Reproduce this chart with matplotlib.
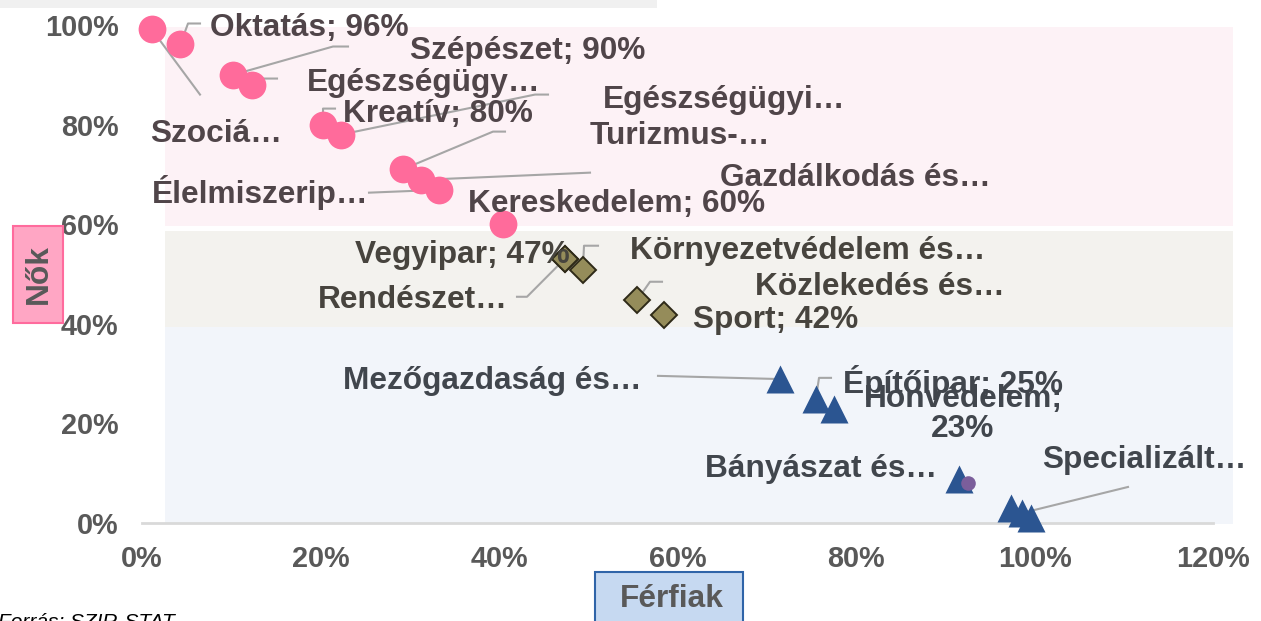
import matplotlib
matplotlib.use("Agg")
import matplotlib.pyplot as plt
from matplotlib.patches import Rectangle
from matplotlib.lines import Line2D

plt.rcParams['font.family'] = ['Liberation Sans', 'DejaVu Sans']

# ---------------- data ----------------
# women-dominated (pink circles): men share (x), women share (y)
women_names = ["Szociá…", "Oktatás; 96%", "Szépészet; 90%", "Egészségügy…", "Kreatív; 80%",
               "Egészségügyi…", "Turizmus-…", "Gazdálkodás és…", "Élelmiszerip…", "Kereskedelem; 60%"]
women_x = [0.011, 0.043, 0.102, 0.123, 0.203, 0.223, 0.292, 0.313, 0.333, 0.405]
women_y = [0.991, 0.961, 0.900, 0.880, 0.800, 0.780, 0.710, 0.689, 0.669, 0.600]

# mixed (olive diamonds)
mixed_names = ["Vegyipar; 47%", "Rendészet…", "Környezetvédelem és…", "Közlekedés és…", "Sport; 42%"]
mixed_x = [0.474, 0.474, 0.494, 0.555, 0.585]
mixed_y = [0.531, 0.531, 0.509, 0.448, 0.418]

# men-dominated (blue triangles)
men_names = ["Mezőgazdaság és…", "Építőipar; 25%", "Honvédelem;\n23%", "Bányászat és…",
             "Specializált…", "", ""]
men_x = [0.715, 0.755, 0.775, 0.915, 0.974, 0.986, 0.996]
men_y = [0.289, 0.249, 0.229, 0.088, 0.030, 0.020, 0.010]

# extra point (purple)
extra_x = [0.925]
extra_y = [0.080]

x_ticks = [0, 0.2, 0.4, 0.6, 0.8, 1.0, 1.2]
x_ticklabels = ["0%", "20%", "40%", "60%", "80%", "100%", "120%"]
y_ticks = [0, 0.2, 0.4, 0.6, 0.8, 1.0]
y_ticklabels = ["0%", "20%", "40%", "60%", "80%", "100%"]

# ---------------- layout helpers (reference pixel -> data) ----------------
W, H = 1261, 621
X0, XS = 142, 892.5   # px at 0, px per 1.0
Y0, YS = 523, 497.5
TY = 3                # text baseline nudge (px)
FS = 22.8

def dx(px):
    return (px - X0) / XS

def dy(py):
    return (Y0 - py) / YS

fig = plt.figure(figsize=(W / 100, H / 100), dpi=100)
fig.patch.set_facecolor("white")
ax = fig.add_axes([X0 / W, (H - Y0) / H, (1213 - X0) / W, (Y0 - 25) / H])
ax.set_xlim(0, 1.2)
ax.set_ylim(0, 1.0)
ax.set_facecolor("none")
for s in ["left", "right", "top"]:
    ax.spines[s].set_visible(False)
ax.spines["bottom"].set_color("#d9d9d9")
ax.spines["bottom"].set_linewidth(2)
ax.set_xticks(x_ticks)
ax.set_xticklabels(x_ticklabels)
ax.set_yticks(y_ticks)
ax.set_yticklabels(y_ticklabels)
ax.tick_params(axis="both", length=0, labelsize=20.8, labelcolor="#595959")
ax.tick_params(axis="y", pad=17)
ax.tick_params(axis="x", pad=16)
for t in ax.get_xticklabels() + ax.get_yticklabels():
    t.set_fontweight("bold")

# background bands
bands = [
    (165, 27, 1233, 226, "#fdf2f6"),
    (165, 231, 1233, 327, "#f3f2ee"),
    (165, 327, 1233, 524, "#f2f5fa"),
]
for x1, y1, x2, y2, c in bands:
    ax.add_patch(Rectangle((dx(x1), dy(y2)), dx(x2) - dx(x1), dy(y1) - dy(y2),
                           facecolor=c, edgecolor="none", zorder=0, clip_on=False))

# markers
ax.plot(women_x, women_y, "o", ms=20, color="#ff6b9b", mec="none", zorder=3, clip_on=False)
ax.plot(mixed_x, mixed_y, "D", ms=13.5, color="#958c5a", mec="#2e2a18", mew=1.4, zorder=3, clip_on=False)
ax.plot(men_x, men_y, "^", ms=20, color="#2b5591", mec="none", zorder=3, clip_on=False)
ax.plot(extra_x, extra_y, "o", ms=10.5, color="#7b5e9b", mec="none", zorder=4, clip_on=False)

LC = "#a6a6a6"

def leader(x, y, pts):
    xs = [x] + [dx(p[0]) for p in pts]
    ys = [y] + [dy(p[1]) for p in pts]
    ax.add_line(Line2D(xs, ys, color=LC, lw=1.5, zorder=2, clip_on=False))

PINK_T = "#504549"
BEIGE_T = "#47443e"
BLUE_T = "#41464d"

# label layouts: (left px, center y px, leader waypoints)
women_layout = [
    (150, 131, [(200, 95)]),
    (210, 25, [(188, 24), (200, 24)]),
    (410, 48, [(333, 47), (348, 47)]),
    (307, 80, [(263, 79), (277, 79)]),
    (343, 111, [(323, 109), (335, 109)]),
    (603, 97, [(535, 95), (548, 95)]),
    (590, 133, [(493, 132), (505, 132)]),
    (720, 175, [(590, 173)]),
    (152, 190, [(369, 193)]),
    (468, 201, []),
]
for i, (lx, ly, pts) in enumerate(women_layout):
    if pts:
        leader(women_x[i], women_y[i], pts)
    ax.text(dx(lx), dy(ly + TY), women_names[i], ha="left", va="center", fontsize=FS,
            fontweight="bold", color=PINK_T, zorder=5, clip_on=False)

mixed_layout = [
    (355, 252, []),
    (318, 297, [(527, 297), (517, 297)]),
    (630, 248, [(584, 246), (598, 246)]),
    (755, 284, [(650, 282), (662, 282)]),
    (693, 317, []),
]
for i, (lx, ly, pts) in enumerate(mixed_layout):
    if pts:
        leader(mixed_x[i], mixed_y[i], pts)
    ax.text(dx(lx), dy(ly + TY), mixed_names[i], ha="left", va="center", fontsize=FS,
            fontweight="bold", color=BEIGE_T, zorder=5, clip_on=False)

men_layout = [
    (343, 378, "left", [(658, 376)]),
    (843, 380, "left", [(819, 378), (831, 378)]),
    (963, 411, "center", []),
    (705, 466, "left", []),
    (1042, 457, "left", [(1128, 487)]),
]
for i, (lx, ly, ha, pts) in enumerate(men_layout):
    if i == 4:
        leader(men_x[5], men_y[5], pts)
    elif pts:
        leader(men_x[i], men_y[i], pts)
    ax.text(dx(lx), dy(ly + TY), men_names[i], ha=ha, va="center", fontsize=FS,
            fontweight="bold", color=BLUE_T, zorder=5, clip_on=False,
            multialignment="center", linespacing=1.0)

# axis title boxes (figure pixel coordinates)
def fx(px):
    return px / W

def fy(py):
    return (H - py) / H

fig.patches.append(Rectangle((fx(13), fy(323)), fx(63) - fx(13), fy(226) - fy(323),
                             transform=fig.transFigure, facecolor="#ffa6c4", edgecolor="#ff6b9d",
                             lw=1.5, zorder=1))
fig.text(fx(39), fy(274), "Nők", rotation=90, ha="center", va="center", fontsize=FS,
         fontweight="bold", color="#595959")

fig.patches.append(Rectangle((fx(595), fy(640)), fx(743) - fx(595), fy(572) - fy(640),
                             transform=fig.transFigure, facecolor="#c6d9f1", edgecolor="#2f64a8",
                             lw=1.5, zorder=1))
fig.text(fx(672), fy(599), "Férfiak", ha="center", va="center", fontsize=FS,
         fontweight="bold", color="#595959")

# top grey strip
fig.patches.append(Rectangle((0, fy(8)), fx(657), 1 - fy(8), transform=fig.transFigure,
                             facecolor="#f0f0f0", edgecolor="none", zorder=0))

# source note (cut off at bottom)
fig.text(fx(-2), fy(613), "Forrás: SZIR-STAT", ha="left", va="top", fontsize=15,
         style="italic", color="#000000")

fig.savefig("out.png", dpi=100)
